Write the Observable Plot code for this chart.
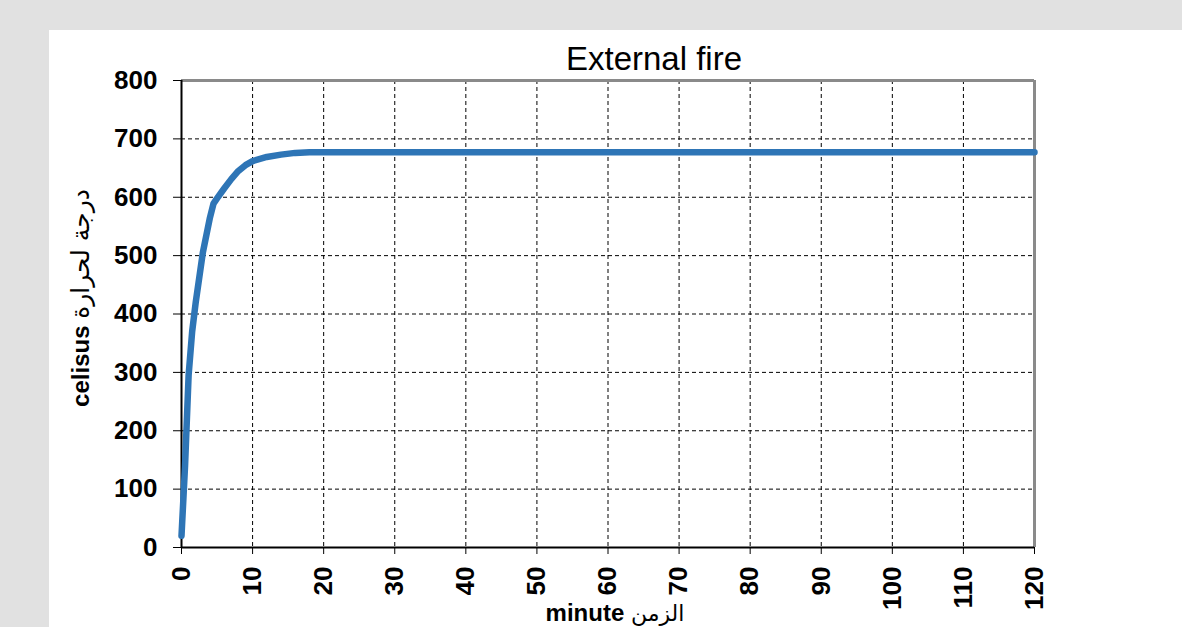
<!DOCTYPE html>
<html>
<head>
<meta charset="utf-8">
<script src="https://cdn.jsdelivr.net/npm/d3@7"></script>
<script src="https://cdn.jsdelivr.net/npm/@observablehq/plot@0.6"></script>
<style>
  html, body { margin: 0; padding: 0; background: #e1e1e1; width: 1182px; height: 627px; overflow: hidden; }
  #panel { position: absolute; left: 49px; top: 30px; width: 1133px; height: 597px; background: #fff; }
  #chart { position: absolute; left: 0; top: 0; }
  .lbl { position: absolute; font-family: "Liberation Sans", Arial, sans-serif; color: #000; white-space: nowrap; }
  #title { left: 605px; top: 10px; transform: translateX(-50%); font-size: 33px; }
  #xlabel { left: 566px; top: 569px; transform: translateX(-50%); font-size: 24px; }
  #ylabel { left: 31px; top: 268px; transform: translate(-50%, -50%) rotate(-90deg); font-size: 24px; }
  .b { font-weight: bold; }
  .ar { font-family: "DejaVu Sans", "Noto Sans", sans-serif; font-weight: normal; }
  #xlabel .ar { font-size: 22px; }
  #ylabel .ar { font-size: 25px; }
</style>
</head>
<body>
<div id="panel">
  <div id="chart"></div>
  <div id="title" class="lbl">External fire</div>
  <div id="xlabel" class="lbl"><span class="b">minute</span> <span class="ar">الزمن</span></div>
  <div id="ylabel" class="lbl"><span class="b">celisus</span> <span class="ar">درجة لحرارة</span></div>
</div>
<script>
const minutes = [0, 0.5, 1, 1.5, 2, 3, 4, 4.5, 5, 6, 7, 8, 9, 10, 12, 14, 16, 18, 20, 120];
const celsius = [20, 140, 295, 370, 420, 505, 565, 589, 598, 615, 631, 645, 655, 662, 669, 673, 676, 677, 677, 677];
const xTicks = [0, 10, 20, 30, 40, 50, 60, 70, 80, 90, 100, 110, 120];
const yTicks = [0, 100, 200, 300, 400, 500, 600, 700, 800];

const data = minutes.map((m, i) => ({minute: m, temp: celsius[i]}));

const chart = Plot.plot({
  width: 1133,
  height: 597,
  marginLeft: 132,
  marginRight: 148,
  marginTop: 50,
  marginBottom: 80,
  style: {background: "transparent", fontFamily: "Liberation Sans, Arial, sans-serif", color: "#000", overflow: "visible"},
  x: {domain: [0, 120], label: null},
  y: {domain: [0, 800], label: null},
  marks: [
    Plot.gridX(xTicks, {stroke: "#000", strokeOpacity: 1, strokeWidth: 1, strokeDasharray: "4,3"}),
    Plot.gridY(yTicks, {stroke: "#000", strokeOpacity: 1, strokeWidth: 1, strokeDasharray: "4,3"}),
    Plot.ruleX([120], {stroke: "#8a8a8a", strokeWidth: 3}),
    Plot.ruleY([800], {stroke: "#8a8a8a", strokeWidth: 3}),
    Plot.ruleX([0], {stroke: "#000", strokeWidth: 2}),
    Plot.ruleY([0], {stroke: "#000", strokeWidth: 2}),
    Plot.axisX(xTicks, {tickRotate: -90, tickSize: 7, tickPadding: 12, fontSize: 26, fontWeight: "bold", fill: "#000", label: null, tickFormat: d => String(d)}),
    Plot.axisY(yTicks, {tickSize: 8, tickPadding: 16, fontSize: 26, fontWeight: "bold", fill: "#000", label: null, tickFormat: d => String(d)}),
    Plot.line(data, {x: "minute", y: "temp", stroke: "#2e75b6", strokeWidth: 6.5, strokeLinejoin: "round", curve: "linear"})
  ]
});
document.getElementById("chart").appendChild(chart);
</script>
</body>
</html>
